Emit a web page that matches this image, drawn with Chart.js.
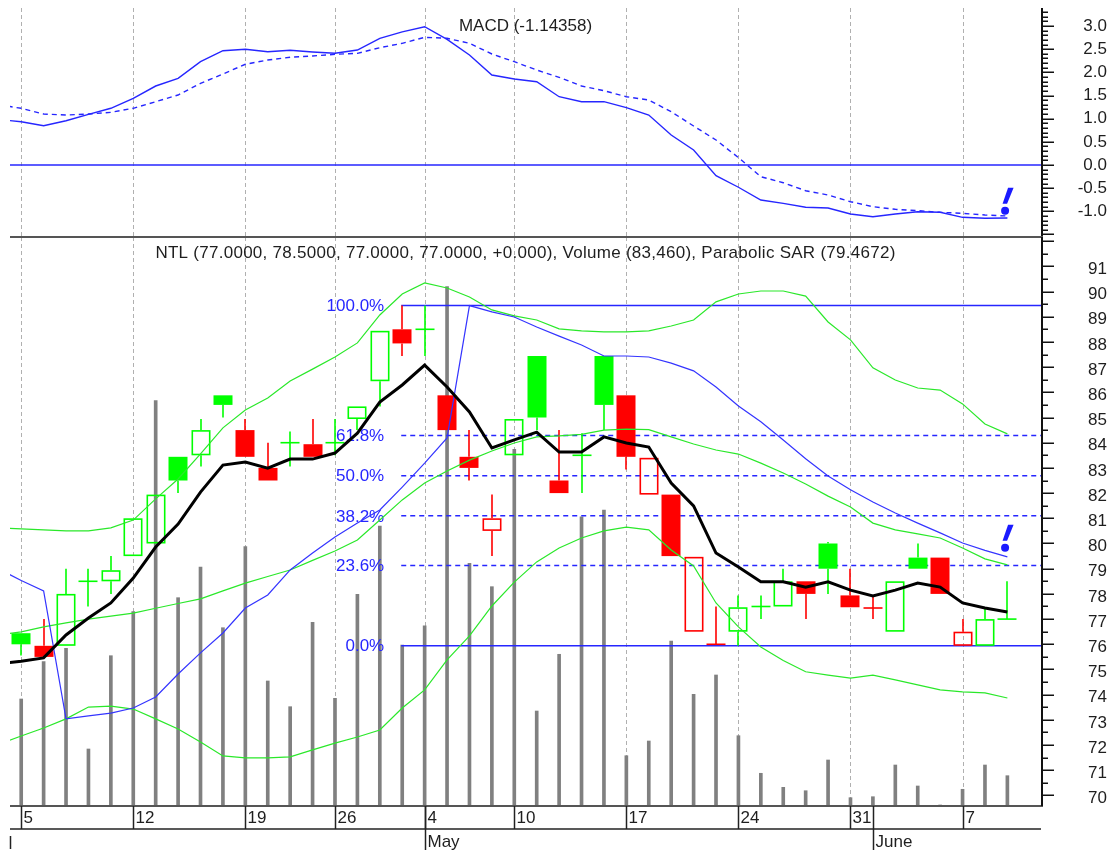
<!DOCTYPE html>
<html>
<head>
<meta charset="utf-8">
<script src="https://cdn.jsdelivr.net/npm/chart.js@4.4.0/dist/chart.umd.min.js"></script>
<style>
html,body{margin:0;padding:0;background:#fff;}
#wrap{position:relative;width:1113px;height:850px;overflow:hidden;}
#wrap canvas{position:absolute;left:0;top:0;}
</style>
</head>
<body>
<div id="wrap">
<canvas id="macdChart" width="1113" height="850"></canvas>
<canvas id="mainChart" width="1113" height="850"></canvas>
</div>
<script>
// ---------------- DATA (position 0 = the session before the first visible bar) ----------------
const xTickLabels = ['', '5','','','','', '12','','','','', '19','','','', '26','','','', '4','','','', '10','','','','', '17','','','','', '24','','','','', '31','','','','', '7','',''];
const monthLabels = ['', '','','','','', '','','','','', '','','','', '','','','', 'May','','','', '','','','','', '','','','','', '','','','','', '','June','','','', '','',''];
const ticker = 'NTL';

const opens  = [null, 76.44,75.94,75.94,78.5,78.5, 79.5,80.0,83.44,83.5,85.88, 84.5,83.0,84.0,83.94,84.0, 84.94,86.44,88.5,88.5,85.88, 83.44,80.5,83.5,87.44,82.5, 83.5,87.44,85.88,81.94,81.94, 76.5,76.0,76.5,77.5,77.5, 78.5,80.0,77.94,77.44,76.5, 79.44,79.44,75.94,75.94,77.0];
const highs  = [null, 76.44,77.0,79.0,79.0,79.5, 81.0,81.94,83.44,84.94,85.88, 84.94,84.0,84.44,84.94,84.94, 85.44,88.44,89.44,89.44,85.88, 84.5,81.94,84.94,87.44,84.5, 84.38,87.44,85.88,83.4,81.94, 79.47,77.5,77.94,77.94,79.0, 78.5,80.06,79.0,77.88,78.5, 80.0,79.44,77.0,77.44,78.5];
const lows   = [null, 75.56,75.5,75.94,77.5,78.0, 79.5,80.0,82.0,83.06,85.0, 83.44,82.5,83.06,83.44,83.5, 84.5,85.44,87.44,87.44,84.5, 82.5,79.5,83.5,84.5,82.0, 82.0,84.5,82.94,81.94,79.5, 76.5,76.0,75.94,77.0,77.5, 77.0,78.0,77.47,77.0,76.5, 79.0,78.0,75.94,75.94,77.0];
const closes = [75.9, 76.0,75.5,78.0,78.5,78.94, 81.0,81.94,82.5,84.5,85.5, 83.44,82.5,84.0,83.44,84.0, 85.44,88.44,87.94,88.5,84.5, 83.0,81.0,84.94,85.0,82.0, 83.5,85.5,83.44,83.4,79.5, 79.47,76.0,77.47,77.5,78.5, 78.0,79.0,77.47,77.44,78.5, 79.0,78.0,76.5,77.0,77.0];
const volumes = [null, 294700,397400,434300,157000,413900, 535100,1116200,573700,658200,491000, 714100,344300,273500,505900,296600, 583000,771100,443400,496500,1430200, 668400,604000,982400,261600,417800, 796700,815200,138500,179000,454400, 307600,360800,193600,90100,51500, 42100,126700,22900,25600,112900, 55100,2800,46000,112900,83460];

const movingAvg = [75.23, 75.33,75.46,76.37,77.04,77.64, 78.63,79.86,80.77,82.04,83.11, 83.23,82.99,83.35,83.35,83.59, 84.38,85.61,86.29,87.08,86.21, 85.22,83.79,84.11,84.42,83.63, 83.63,84.23,83.99,83.83,82.40, 81.49,79.62,79.07,78.48,78.48, 78.27,78.48,78.15,77.92,78.15, 78.43,78.27,77.64,77.44,77.28];
const bandUpper = [80.62, 80.58,80.54,80.50,80.50,80.62, 80.93,81.77,82.56,83.56,84.59, 85.30,85.77,86.45,86.92,87.40, 87.96,89.07,89.90,90.34,90.14, 89.78,89.27,89.03,88.87,88.52, 88.44,88.40,88.40,88.44,88.63, 88.87,89.59,89.90,90.02,90.02, 89.82,88.79,88.08,86.97,86.49, 86.17,86.09,85.54,84.74,84.35];
const bandMiddle = [76.37, 76.49,76.69,76.85,77.00,77.12, 77.24,77.43,77.62,77.80,78.12, 78.43,78.69,78.95,79.33,79.70, 80.14,80.93,81.73,82.40,82.88, 83.31,83.67,83.99,84.23,84.27, 84.33,84.50,84.54,84.52,84.23, 83.95,83.71,83.55,83.19,82.80, 82.36,81.88,81.45,80.81,80.54, 80.38,80.22,79.82,79.39,79.15];
const bandLower = [72.04, 72.36,72.68,73.04,73.51,73.55, 73.43,73.04,72.64,72.12,71.57, 71.49,71.49,71.53,71.81,72.08, 72.32,72.60,73.47,74.19,75.38, 76.33,77.52,78.47,79.27,79.82, 80.22,80.50,80.65,80.54,79.74, 79.11,77.64,76.69,75.89,75.36, 74.91,74.78,74.66,74.78,74.59, 74.39,74.19,74.11,74.07,73.87];
const sar = [78.99, 78.53,78.12,73.04,73.16,73.27, 73.47,73.91,74.82,75.66,76.45, 77.44,77.96,78.95,79.62,80.26, 80.81,81.33,82.24,83.19,84.19, 89.44,89.19,88.99,88.59,88.23, 87.88,87.44,87.44,87.40,87.16, 86.85,86.21,85.46,84.83,84.11, 83.36,82.68,82.13,81.65,81.21, 80.81,80.42,80.02,79.73,79.4672];

const macdLine = [0.98, 0.935,0.848,0.956,1.094,1.224, 1.440,1.705,1.871,2.230,2.467, 2.497,2.446,2.476,2.439,2.411, 2.482,2.735,2.875,2.985,2.713, 2.374,1.943,1.856,1.798,1.474, 1.366,1.367,1.237,1.079,0.648, 0.324,-0.23,-0.48,-0.755,-0.827, -0.913,-0.928,-1.058,-1.116,-1.058, -1.008,-1.021,-1.129,-1.150,-1.14358];
const macdSignal = [1.30, 1.224,1.101,1.079,1.101,1.137, 1.224,1.366,1.511,1.763,1.964, 2.174,2.266,2.325,2.353,2.389, 2.411,2.532,2.627,2.756,2.735, 2.627,2.396,2.230,2.050,1.893, 1.705,1.604,1.474,1.403,1.150, 0.842,0.540,0.16,-0.253,-0.382, -0.555,-0.648,-0.792,-0.900,-0.956, -0.986,-1.021,-1.043,-1.079,-1.101];

const fibFrom = 18;                       // array position of the swing-high session
const fibLevels = [1, 0.618, 0.5, 0.382, 0.236, 0];
const alertMacd = -0.99, alertPrice = 79.83;   // expert "!" signals on the last session

// ---------------- STYLE ----------------
const FONT = '17px "Liberation Sans", Arial, sans-serif';
const TXT = '#1e1e1e';
const BLUE = '#2626ff';
const GREEN = '#00ff00';
const RED = '#ff0000';
const N = closes.length;
const pts = arr => arr.map((v, k) => ({x: k, y: v}));
const xScale = () => ({type: 'linear', min: 0.5, max: N + 0.5, offset: false, display: false, grid: {offset: false}});

const vGrid = {
  id: 'vgrid',
  beforeDatasetsDraw(chart) {
    const {ctx, chartArea: a, scales: {x}} = chart;
    ctx.save();
    ctx.strokeStyle = '#b0b0b0'; ctx.lineWidth = 1; ctx.setLineDash([4, 3]);
    xTickLabels.forEach((t, k) => {
      if (!t) return;
      const px = Math.round(x.getPixelForValue(k)) + 0.5;
      ctx.beginPath(); ctx.moveTo(px, a.top); ctx.lineTo(px, a.bottom); ctx.stroke();
    });
    ctx.restore();
  }
};

function drawRightAxis(chart, nFrom, nTo, div, majorEvery, labelMin, labelMax, digits, labelDy) {
  const {ctx, chartArea: a, scales: {y}} = chart;
  ctx.save();
  ctx.strokeStyle = '#111'; ctx.lineWidth = 2;
  ctx.beginPath(); ctx.moveTo(a.right + 1, a.top); ctx.lineTo(a.right + 1, a.bottom); ctx.stroke();
  ctx.lineWidth = 1.5;
  ctx.font = FONT; ctx.fillStyle = TXT; ctx.textAlign = 'right'; ctx.textBaseline = 'middle';
  for (let n = nFrom; n <= nTo; n++) {
    const v = n / div;
    const py = y.getPixelForValue(v);
    if (py < a.top - 0.5 || py > a.bottom + 0.5) continue;
    const major = n % majorEvery === 0;
    const yy = Math.round(py) + 0.25;
    ctx.beginPath(); ctx.moveTo(a.right + 2, yy); ctx.lineTo(a.right + (major ? 13 : 7), yy); ctx.stroke();
    if (major && v >= labelMin - 1e-9 && v <= labelMax + 1e-9) ctx.fillText(v.toFixed(digits), a.right + 66, py + labelDy);
  }
  ctx.restore();
}

function drawAlert(chart, val) {
  const {ctx, scales: {x, y}} = chart;
  const cx = x.getPixelForValue(N - 1) - 2.3, cy = y.getPixelForValue(val);
  ctx.save();
  ctx.fillStyle = '#1a1aff';
  ctx.beginPath(); ctx.arc(cx, cy, 4, 0, Math.PI * 2); ctx.fill();
  ctx.beginPath();
  ctx.moveTo(cx - 2.5, cy - 7); ctx.lineTo(cx + 2, cy - 7); ctx.lineTo(cx + 8.5, cy - 23); ctx.lineTo(cx + 3, cy - 23);
  ctx.closePath(); ctx.fill();
  ctx.restore();
}

// ---------------- MACD PANEL ----------------
const macdDeco = {
  id: 'macdDeco',
  beforeDatasetsDraw(chart) {
    const {ctx, chartArea: a, scales: {y}} = chart;
    const y0 = y.getPixelForValue(0);
    ctx.save(); ctx.strokeStyle = BLUE; ctx.lineWidth = 1.5;
    ctx.beginPath(); ctx.moveTo(a.left, y0); ctx.lineTo(a.right, y0); ctx.stroke();
    ctx.restore();
  },
  afterDraw(chart) {
    const {ctx, chartArea: a} = chart;
    drawRightAxis(chart, -15, 34, 10, 5, -1, 3, 1, 0);
    drawAlert(chart, alertMacd);
    ctx.save(); ctx.font = FONT; ctx.fillStyle = TXT; ctx.textAlign = 'center'; ctx.textBaseline = 'middle';
    ctx.fillText('MACD (' + macdLine[N - 1].toFixed(5) + ')', (a.left + a.right) / 2, a.top + 18);
    ctx.restore();
  }
};

new Chart(document.getElementById('macdChart'), {
  type: 'line',
  data: {datasets: [
    {data: pts(macdSignal), borderColor: BLUE, borderWidth: 1.4, borderDash: [5, 4], pointRadius: 0, tension: 0, order: 2},
    {data: pts(macdLine), borderColor: BLUE, borderWidth: 1.4, pointRadius: 0, tension: 0, order: 1}
  ]},
  options: {
    responsive: false, animation: false, events: [], devicePixelRatio: 1,
    layout: {padding: {left: 10, right: 72, top: 8, bottom: 613}},
    plugins: {legend: {display: false}, tooltip: {enabled: false}, title: {display: false}},
    scales: {x: xScale(), y: {min: -1.554, max: 3.389, display: false}}
  },
  plugins: [vGrid, macdDeco]
});

// ---------------- PRICE PANEL ----------------
function drawFib(chart) {
  const {ctx, chartArea: a, scales: {x, y}} = chart;
  const hi = Math.max(...highs.slice(fibFrom));
  const lo = Math.min(...lows.slice(fibFrom));
  const x0 = x.getPixelForValue(fibFrom) - 1;
  ctx.save();
  fibLevels.forEach(lv => {
    const yy = y.getPixelForValue(lo + (hi - lo) * lv);
    ctx.strokeStyle = BLUE; ctx.lineWidth = 1.5;
    ctx.setLineDash(lv === 0 || lv === 1 ? [] : [5, 4]);
    ctx.beginPath(); ctx.moveTo(x0, yy); ctx.lineTo(a.right, yy); ctx.stroke();
    ctx.setLineDash([]);
    ctx.fillStyle = BLUE; ctx.font = FONT; ctx.textAlign = 'right'; ctx.textBaseline = 'middle';
    ctx.fillText((lv * 100).toFixed(1) + '%', x0 - 17, yy + 1);
  });
  ctx.restore();
}

function drawCandles(chart) {
  const {ctx, chartArea: a, scales: {x, y}} = chart;
  const w = Math.round((x.getPixelForValue(1) - x.getPixelForValue(0)) * 0.86);
  ctx.save();
  ctx.beginPath(); ctx.rect(a.left, a.top, a.right - a.left, a.bottom - a.top); ctx.clip();
  for (let k = 0; k < N; k++) {
    if (opens[k] == null) continue;
    const o = opens[k], h = highs[k], l = lows[k], c = closes[k];
    const col = (k === 0 || c >= closes[k - 1]) ? GREEN : RED;
    const cx = Math.round(x.getPixelForValue(k));
    const yo = y.getPixelForValue(o), yc = y.getPixelForValue(c), yh = y.getPixelForValue(h), yl = y.getPixelForValue(l);
    const top = Math.min(yo, yc), bot = Math.max(yo, yc);
    ctx.strokeStyle = col; ctx.fillStyle = col; ctx.lineWidth = 1.6;
    ctx.beginPath();
    if (yh < top) { ctx.moveTo(cx, yh); ctx.lineTo(cx, top); }
    if (yl > bot) { ctx.moveTo(cx, bot); ctx.lineTo(cx, yl); }
    ctx.stroke();
    if (c === o) {
      ctx.beginPath(); ctx.moveTo(cx - w / 2, yc); ctx.lineTo(cx + w / 2, yc); ctx.stroke();
    } else if (c < o) {
      ctx.fillRect(cx - w / 2, top, w, bot - top);
    } else {
      ctx.strokeRect(cx - w / 2 + 0.8, top + 0.8, w - 1.6, bot - top - 1.6);
    }
  }
  ctx.restore();
}

const mainDeco = {
  id: 'mainDeco',
  afterDatasetDraw(chart, args) {
    if (args.index === 0) { drawFib(chart); drawCandles(chart); }
  },
  afterDraw(chart) {
    const {ctx, chartArea: a, scales: {x}} = chart;
    ctx.save();
    ctx.strokeStyle = '#555'; ctx.lineWidth = 2;
    ctx.beginPath(); ctx.moveTo(a.left, a.top); ctx.lineTo(a.right + 2, a.top); ctx.stroke();
    ctx.beginPath(); ctx.moveTo(a.left, a.bottom); ctx.lineTo(a.right + 2, a.bottom); ctx.stroke();
    ctx.strokeStyle = '#222'; ctx.lineWidth = 1.5;
    const rowY = a.bottom + 23, endY = a.bottom + 44;
    ctx.beginPath(); ctx.moveTo(a.left, rowY); ctx.lineTo(a.right, rowY); ctx.stroke();
    ctx.font = FONT; ctx.fillStyle = TXT; ctx.textAlign = 'left'; ctx.textBaseline = 'middle';
    xTickLabels.forEach((t, k) => {
      if (!t) return;
      const px = Math.round(x.getPixelForValue(k)) + 0.5;
      ctx.beginPath(); ctx.moveTo(px, a.bottom); ctx.lineTo(px, rowY); ctx.stroke();
      ctx.fillText(t, px + 2, a.bottom + 12.5);
    });
    monthLabels.forEach((t, k) => {
      if (!t) return;
      const px = Math.round(x.getPixelForValue(k)) + 0.5;
      ctx.beginPath(); ctx.moveTo(px, a.bottom); ctx.lineTo(px, endY); ctx.stroke();
      ctx.fillText(t, px + 2, a.bottom + 36.5);
    });
    ctx.beginPath(); ctx.moveTo(a.left + 0.5, a.bottom + 30); ctx.lineTo(a.left + 0.5, endY - 1); ctx.stroke();
    const L = N - 1;
    const chg = closes[L] - closes[L - 1];
    const title = ticker + ' (' + opens[L].toFixed(4) + ', ' + highs[L].toFixed(4) + ', ' + lows[L].toFixed(4) + ', ' +
      closes[L].toFixed(4) + ', ' + (chg >= 0 ? '+' : '') + chg.toFixed(3) + '), Volume (' +
      volumes[L].toLocaleString('en-US') + '), Parabolic SAR (' + sar[L].toFixed(4) + ')';
    ctx.textAlign = 'center';
    if ('letterSpacing' in ctx) ctx.letterSpacing = '0.27px';
    ctx.fillText(title, (a.left + a.right) / 2, a.top + 16);
    ctx.restore();
    drawRightAxis(chart, 139, 185, 2, 2, 70, 91, 0, 3);
    drawAlert(chart, alertPrice);
  }
};

new Chart(document.getElementById('mainChart'), {
  type: 'line',
  data: {datasets: [
    {type: 'bar', data: pts(volumes), yAxisID: 'yv', backgroundColor: '#808080', barThickness: 3, order: 10},
    {data: pts(bandUpper), yAxisID: 'y', borderColor: '#2ae82a', borderWidth: 1.2, pointRadius: 0, tension: 0, order: 5},
    {data: pts(bandMiddle), yAxisID: 'y', borderColor: '#2ae82a', borderWidth: 1.2, pointRadius: 0, tension: 0, order: 5},
    {data: pts(bandLower), yAxisID: 'y', borderColor: '#2ae82a', borderWidth: 1.2, pointRadius: 0, tension: 0, order: 5},
    {data: pts(sar), yAxisID: 'y', borderColor: '#3434ff', borderWidth: 1.2, pointRadius: 0, tension: 0, order: 4},
    {data: pts(movingAvg), yAxisID: 'y', borderColor: '#000', borderWidth: 3, pointRadius: 0, tension: 0, order: 1}
  ]},
  options: {
    responsive: false, animation: false, events: [], devicePixelRatio: 1,
    layout: {padding: {left: 10, right: 72, top: 237, bottom: 44}},
    plugins: {legend: {display: false}, tooltip: {enabled: false}, title: {display: false}},
    scales: {
      x: xScale(),
      y: {min: 69.583, max: 92.163, display: false},
      yv: {min: 0, max: 1567000, display: false}
    }
  },
  plugins: [vGrid, mainDeco]
});
</script>
</body>
</html>
